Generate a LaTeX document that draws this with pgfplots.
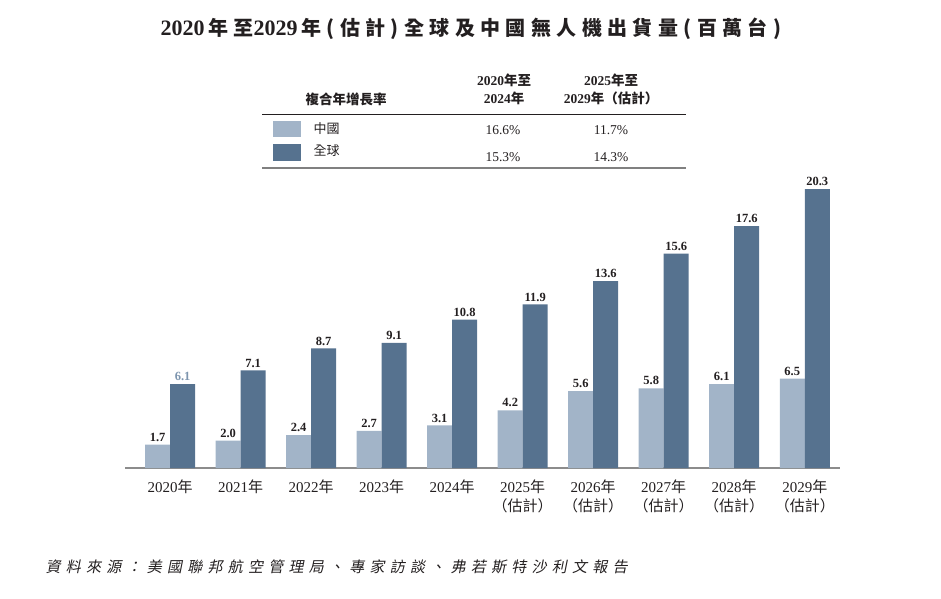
\documentclass[border=0pt]{standalone}
\usepackage{pgfplots}
\pgfplotsset{compat=1.18}
\usepackage{fontspec}
\setmainfont{Liberation Serif}
\newfontfamily\cjk{Noto Sans CJK TC}
\newfontfamily\cjkt{Noto Sans CJK TC}[LetterSpace=27]
\newfontfamily\cjks{Noto Sans CJK TC}[LetterSpace=35,FakeSlant=0.2]

\definecolor{cn}{HTML}{A2B4C8}
\definecolor{gl}{HTML}{56728F}
\definecolor{lbl}{HTML}{7D95AE}
\definecolor{txt}{HTML}{231F20}

\begin{document}
\begin{tikzpicture}[x=1pt,y=1pt,every node/.style={text=txt}]
\useasboundingbox (0,0) rectangle (941,598);

% title
\node at (471,569) {\bfseries\fontsize{22}{24}\selectfont 2020\,{\fontsize{20}{24}\selectfont\cjkt 年至}2029\,{\fontsize{20}{24}\selectfont\cjkt 年(估計)全球及中國無人機出貨量(百萬台)}};

% CAGR table
\node at (346,499) {\fontsize{13.5}{15}\selectfont\bfseries\cjk 複合年增長率};
\node at (504,518) {\fontsize{13.5}{15}\selectfont\bfseries 2020{\cjk 年至}};
\node at (504,500) {\fontsize{13.5}{15}\selectfont\bfseries 2024{\cjk 年}};
\node at (611,518) {\fontsize{13.5}{15}\selectfont\bfseries 2025{\cjk 年至}};
\node at (611,500) {\fontsize{13.5}{15}\selectfont\bfseries 2029{\cjk 年（估計）}};
\draw[txt, line width=0.9pt] (262,484) -- (686,484);
\fill[cn] (273,461) rectangle (301,477);
\fill[gl] (273,437) rectangle (301,454);
\node[anchor=west] at (310,469) {\fontsize{13}{15}\selectfont\cjk 中國};
\node[anchor=west] at (310,447) {\fontsize{13}{15}\selectfont\cjk 全球};
\node at (503,468) {\fontsize{13.5}{15}\selectfont 16.6\%};
\node at (611,468) {\fontsize{13.5}{15}\selectfont 11.7\%};
\node at (503,441) {\fontsize{13.5}{15}\selectfont 15.3\%};
\node at (611,441) {\fontsize{13.5}{15}\selectfont 14.3\%};
\draw[gray, line width=1.6pt] (262,430) -- (686,430);

\begin{axis}[
    at={(125pt,130pt)}, anchor=south west,
    scale only axis,
    width=715pt, height=302.3pt,
    xmin=-0.64, xmax=9.5,
    ymin=0, ymax=22,
    ybar=0pt, bar width=25pt,
    hide y axis,
    axis x line*=bottom,
    x axis line style={draw=gray!90, line width=1.6pt, -},
    major tick length=0pt,
    xtick={0,...,9},
    xticklabels={
      {2020{\cjk 年}}, {2021{\cjk 年}}, {2022{\cjk 年}}, {2023{\cjk 年}}, {2024{\cjk 年}},
      {2025{\cjk 年}\\{\cjk （估計）}}, {2026{\cjk 年}\\{\cjk （估計）}},
      {2027{\cjk 年}\\{\cjk （估計）}}, {2028{\cjk 年}\\{\cjk （估計）}},
      {2029{\cjk 年}\\{\cjk （估計）}}},
    x tick label style={align=center, anchor=north, yshift=-8pt,
      font=\fontsize{15}{19}\selectfont, text=txt},
    nodes near coords,
    point meta=explicit symbolic,
    every node near coord/.append style={font=\fontsize{12.5}{14}\selectfont\bfseries,
      text=txt, inner sep=3pt},
    clip=false,
]
\addplot[fill=cn, draw=none] coordinates {
  (0,1.7) [1.7] (1,2.0) [2.0] (2,2.4) [2.4] (3,2.7) [2.7] (4,3.1) [3.1]
  (5,4.2) [4.2] (6,5.6) [5.6] (7,5.8) [5.8] (8,6.1) [6.1] (9,6.5) [6.5]};
\addplot[fill=gl, draw=none] coordinates {
  (0,6.1) [\textcolor{lbl}{6.1}] (1,7.1) [7.1] (2,8.7) [8.7] (3,9.1) [9.1] (4,10.8) [10.8]
  (5,11.9) [11.9] (6,13.6) [13.6] (7,15.6) [15.6] (8,17.6) [17.6] (9,20.3) [20.3]};
\end{axis}

% source
\node[anchor=west] at (42,31) {\fontsize{15}{17}\selectfont\cjks 資料來源：美國聯邦航空管理局、專家訪談、弗若斯特沙利文報告};
\end{tikzpicture}
\end{document}
